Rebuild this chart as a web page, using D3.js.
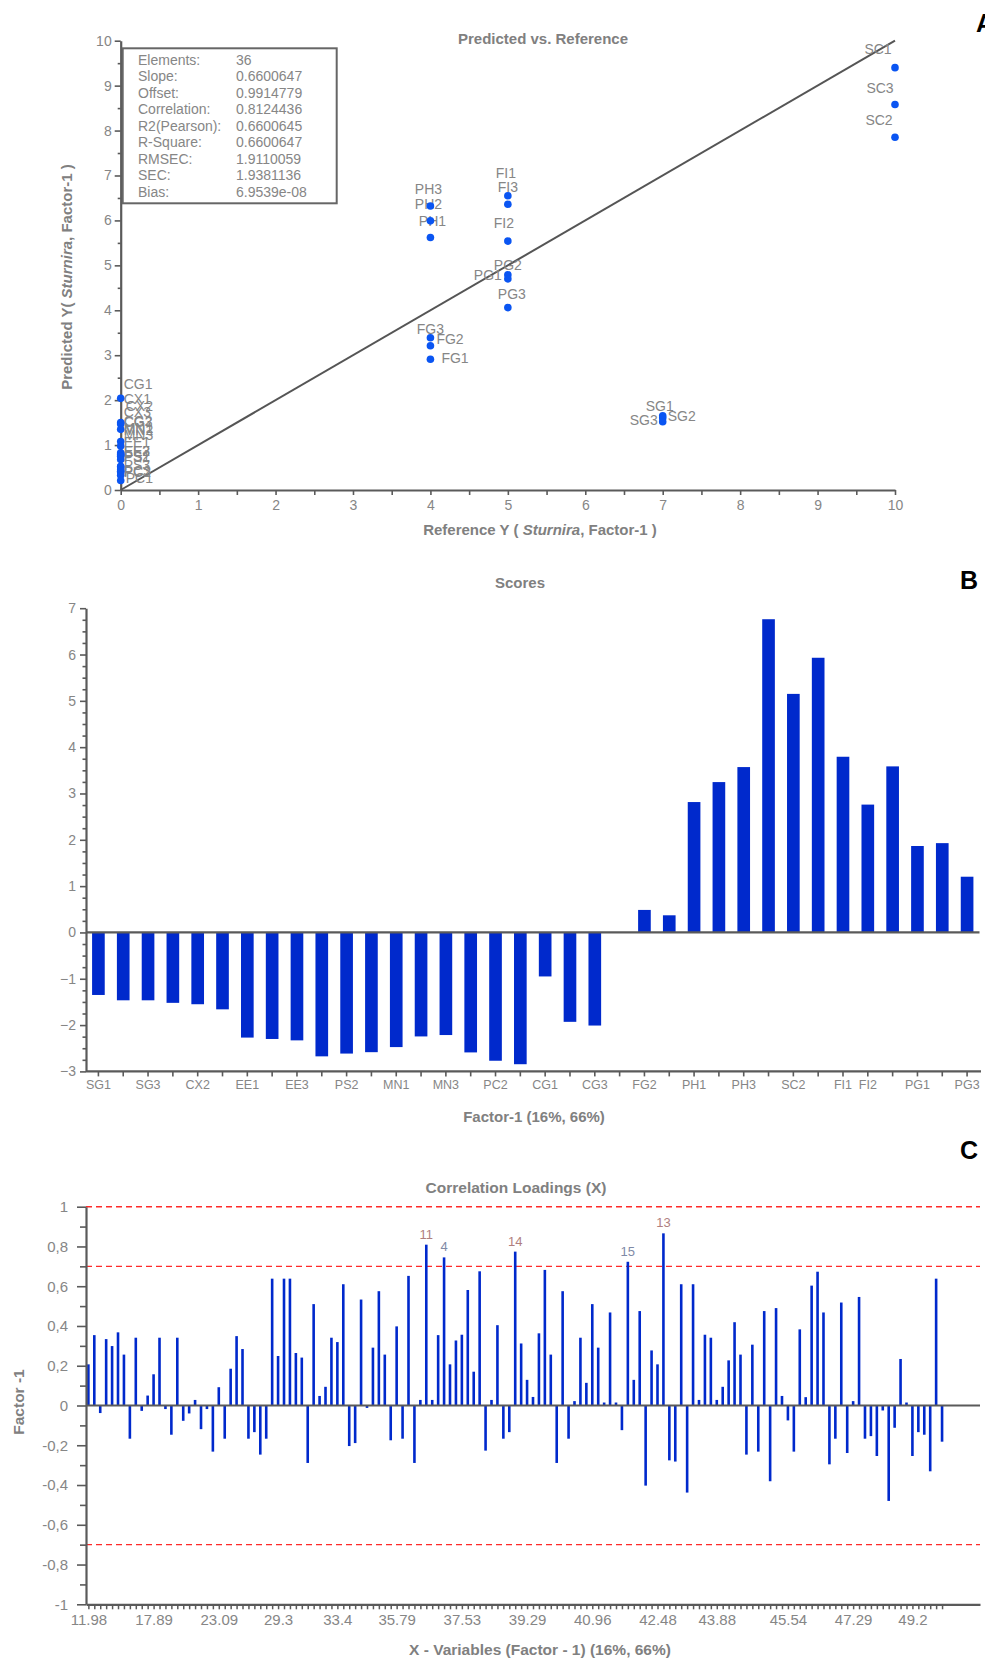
<!DOCTYPE html>
<html><head><meta charset="utf-8">
<script src="https://cdn.jsdelivr.net/npm/d3@7"></script>
<style>
body{margin:0;background:#fff;}
svg{display:block;font-family:"Liberation Sans",Arial,sans-serif;}
</style></head><body>
<svg id="c" width="985" height="1659"></svg>
<script>
// ---------------- Panel A data ----------------
const aNames = ["SC1","SC3","SC2","FI1","FI3","FI2","PG2","PG1","PG3","PH3","PH2","PH1","FG2","FG3","FG1","SG1","SG2","SG3",
  "CG1","CX1","CX2","CX3","CG2","CG3","MN1","MN2","MN3","EE1","EE2","EE3","PS1","PS2","PS3","PC1","PC2","PC3"];
const aReference = [10,10,10,5,5,5,5,5,5,4,4,4,4,4,4,7,7,7, 0,0,0,0,0,0,0,0,0,0,0,0,0,0,0,0,0,0];
const aPredicted = [9.40,8.58,7.85,6.55,6.36,5.54,4.79,4.70,4.06,6.32,5.99,5.62,3.39,3.21,2.91,1.65,1.60,1.52,
  2.04,1.50,1.47,1.35,1.08,0.98,0.52,0.80,0.83,0.78,0.75,0.68,0.40,0.42,0.52,0.45,0.33,0.21];
const statNames = ["Elements:","Slope:","Offset:","Correlation:","R2(Pearson):","R-Square:","RMSEC:","SEC:","Bias:"];
const statValues = ["36","0.6600647","0.9914779","0.8124436","0.6600645","0.6600647","1.9110059","1.9381136","6.9539e-08"];
const aTicks = [0,1,2,3,4,5,6,7,8,9,10];

// ---------------- Panel B data ----------------
const bNames = ["SG1","SG2","SG3","CX1","CX2","CX3","EE1","EE2","EE3","PS1","PS2","PS3","MN1","MN2","MN3","PC1","PC2","PC3",
  "CG1","CG2","CG3","FG1","FG2","FG3","PH1","PH2","PH3","SC1","SC2","SC3","FI1","FI2","FI3","PG1","PG2","PG3"];
const bScores = [-1.35,-1.465,-1.465,-1.52,-1.55,-1.66,-2.27,-2.30,-2.33,-2.675,-2.615,-2.585,-2.475,-2.245,-2.215,-2.59,-2.77,-2.845,
  -0.95,-1.93,-2.01,0.0,0.486,0.37,2.815,3.246,3.57,6.762,5.15,5.93,3.793,2.76,3.585,1.866,1.928,1.203];
const bShownLabels = ["SG1","SG3","CX2","EE1","EE3","PS2","MN1","MN3","PC2","CG1","CG3","FG2","PH1","PH3","SC2","FI1","FI2","PG1","PG3"];
const bTicks = [-3,-2,-1,0,1,2,3,4,5,6,7];

// ---------------- Panel C data ----------------
const cLoadings = [0.207,0.354,-0.038,0.334,0.299,0.368,0.256,-0.167,0.341,-0.027,0.050,0.157,0.341,-0.018,-0.147,0.341,-0.077,-0.040,0.028,-0.119,
  -0.018,-0.232,0.092,-0.167,0.185,0.349,0.284,-0.167,-0.134,-0.247,-0.167,0.638,0.249,0.638,0.638,0.264,0.241,-0.289,0.510,0.048,
  0.094,0.341,0.319,0.610,-0.204,-0.189,0.533,-0.012,0.291,0.575,0.256,-0.175,0.398,-0.167,0.652,-0.289,0.028,0.809,0.028,0.354,
  0.745,0.207,0.327,0.356,0.581,0.170,0.675,-0.227,0.028,0.404,-0.167,-0.134,0.774,0.312,0.129,0.043,0.363,0.682,0.256,-0.289,
  0.575,-0.167,0.022,0.341,0.114,0.510,0.291,0.015,0.468,0.015,-0.124,0.723,0.129,0.475,-0.403,0.277,0.207,0.866,-0.276,-0.282,
  0.610,-0.438,0.610,0.028,0.356,0.341,0.028,0.094,0.227,0.419,0.256,-0.247,0.306,-0.232,0.475,-0.381,0.490,0.048,-0.075,-0.232,
  0.383,0.042,0.603,0.673,0.468,-0.296,-0.167,0.518,-0.239,0.022,0.546,-0.167,-0.154,-0.254,-0.025,-0.480,-0.112,0.234,0.015,-0.254,
  -0.134,-0.147,-0.331,0.638,-0.182];
const cTickIndex = [0,11,22,32,42,52,63,74,85,96,106,118,129,139];
const cTickLabels = ["11.98","17.89","23.09","29.3","33.4","35.79","37.53","39.29","40.96","42.48","43.88","45.54","47.29","49.2"];
const cMarkedIndex = [57,60,72,91,97];
const cMarkedLabels = ["11","4","14","15","13"];
const cLimits = [1,0.7,-0.7];
const cTicks = [-1,-0.8,-0.6,-0.4,-0.2,0,0.2,0.4,0.6,0.8,1];

// ---------------- layout / style (not data) ----------------
const AXIS = "#5a5a5a", TXT = "#868686", TITLE = "#808080", DOT = "#0a55f2", BAR = "#0029cc";
// label offsets for panel A point labels [dx, dy, anchor]
const aLabelPos = {
  SC1:[-17,-19,"middle"],SC3:[-15,-17,"middle"],SC2:[-16,-17,"middle"],
  FI1:[-2,-23,"middle"],FI3:[0,-17,"middle"],FI2:[-4,-18,"middle"],
  PG2:[0,-10,"middle"],PG1:[-20,-4,"middle"],PG3:[4,-14,"middle"],
  PH3:[-2,-17,"middle"],PH2:[-2,-17,"middle"],PH1:[2,-16,"middle"],
  FG2:[6,1,"start"],FG3:[0,-17,"middle"],FG1:[11,-1,"start"],
  SG1:[-3,-10,"middle"],SG2:[5,-2,"start"],SG3:[-5,-2,"end"],
  CG1:[3,-14,"start"],CX1:[3,-24,"start"],CX2:[5,-18,"start"],CX3:[3,-17,"start"],CG2:[3,-20,"start"],CG3:[3,-24,"start"],
  MN1:[3,-39,"start"],MN2:[3,-24,"start"],MN3:[3,-18,"start"],EE1:[3,-13,"start"],EE2:[3,-5,"start"],EE3:[3,-8,"start"],
  PS1:[3,-15,"start"],PS2:[3,-15,"start"],PS3:[3,-2,"start"],PC1:[5,8,"start"],PC2:[3,-3,"start"],PC3:[3,-10,"start"]
};

const svg = d3.select("#c");
function styleAxis(g){
  g.select(".domain").attr("stroke",AXIS).attr("stroke-width",2.2);
  g.selectAll(".tick line").attr("stroke",AXIS).attr("stroke-width",1.6);
  g.selectAll(".tick text").attr("fill",TXT).attr("font-family","'Liberation Sans',Arial,sans-serif");
}
function panelLetter(t,x,y){
  svg.append("text").attr("x",x).attr("y",y).attr("font-size",25).attr("font-weight","bold").attr("fill","#000").text(t);
}

// ================= Panel A =================
(function(){
  const x = d3.scaleLinear().domain([0,10]).range([120.7,895]);
  const y = d3.scaleLinear().domain([0,10]).range([490,40.7]);
  const g = svg.append("g");
  const ya = g.append("g").attr("transform",`translate(${x(0)},0)`)
    .call(d3.axisLeft(y).tickValues(aTicks).tickSize(6).tickSizeOuter(0).tickPadding(3));
  styleAxis(ya); ya.selectAll(".tick text").attr("font-size",14);
  const ym = g.append("g").attr("transform",`translate(${x(0)},0)`)
    .call(d3.axisLeft(y).tickValues(d3.range(0.5,10,1)).tickSize(3).tickFormat(""));
  styleAxis(ym); ym.select(".domain").remove();
  const xa = g.append("g").attr("transform",`translate(0,${y(0)})`)
    .call(d3.axisBottom(x).tickValues(aTicks).tickSize(5).tickSizeOuter(0).tickPadding(5));
  styleAxis(xa); xa.selectAll(".tick text").attr("font-size",14);
  const xm = g.append("g").attr("transform",`translate(0,${y(0)})`)
    .call(d3.axisBottom(x).tickValues(d3.range(0.5,10,1)).tickSize(5).tickFormat(""));
  styleAxis(xm); xm.select(".domain").remove();
  g.append("line").attr("x1",x(0)).attr("y1",y(0)).attr("x2",x(10)).attr("y2",y(10))
    .attr("stroke","#555").attr("stroke-width",2);
  const lab = g.append("g").attr("font-size",14).attr("fill",TXT);
  aNames.forEach((n,i)=>{
    const p = aLabelPos[n];
    lab.append("text").attr("x",x(aReference[i])+p[0]).attr("y",y(aPredicted[i])+p[1])
      .attr("text-anchor",p[2]).attr("dominant-baseline","central").text(n);
  });
  g.append("g").selectAll("circle").data(aNames).join("circle")
    .attr("cx",(d,i)=>x(aReference[i])).attr("cy",(d,i)=>y(aPredicted[i])).attr("r",3.8).attr("fill",DOT);
  g.append("rect").attr("x",122.7).attr("y",48.3).attr("width",214).attr("height",155)
    .attr("fill","none").attr("stroke","#666").attr("stroke-width",2);
  const st = g.append("g").attr("font-size",14).attr("fill",TXT);
  statNames.forEach((s,i)=>{
    st.append("text").attr("x",138).attr("y",65+i*16.46).text(s);
    st.append("text").attr("x",236).attr("y",65+i*16.46).text(statValues[i]);
  });
  svg.append("text").attr("x",543).attr("y",44).attr("text-anchor","middle").attr("font-size",15)
    .attr("font-weight","bold").attr("fill",TITLE).text("Predicted vs. Reference");
  const xt = svg.append("text").attr("x",540).attr("y",535).attr("text-anchor","middle").attr("font-size",15)
    .attr("font-weight","bold").attr("fill",TITLE);
  xt.append("tspan").text("Reference Y ( ");
  xt.append("tspan").attr("font-style","italic").text("Sturnira");
  xt.append("tspan").text(", Factor-1 )");
  const yt = svg.append("text").attr("transform","translate(72,277) rotate(-90)").attr("text-anchor","middle")
    .attr("font-size",15).attr("font-weight","bold").attr("fill",TITLE);
  yt.append("tspan").text("Predicted Y( ");
  yt.append("tspan").attr("font-style","italic").text("Sturnira");
  yt.append("tspan").text(", Factor-1 )");
  panelLetter("A",976,32);
})();

// ================= Panel B =================
(function(){
  const x = d3.scaleBand().domain(bNames).range([86,979.5]).padding(0);
  const y = d3.scaleLinear().domain([-3,7]).range([1071.4,608.2]);
  const g = svg.append("g");
  const bw = x.bandwidth()*0.51;
  g.append("g").selectAll("rect").data(bNames).join("rect")
    .attr("x",d=>x(d)+(x.bandwidth()-bw)/2).attr("width",bw)
    .attr("y",(d,i)=>y(Math.max(0,bScores[i]))).attr("height",(d,i)=>Math.abs(y(bScores[i])-y(0)))
    .attr("fill",BAR);
  g.append("line").attr("x1",86).attr("x2",979.5).attr("y1",y(0)).attr("y2",y(0)).attr("stroke",AXIS).attr("stroke-width",2.2);
  const ya = g.append("g").attr("transform","translate(86,0)")
    .call(d3.axisLeft(y).tickValues(bTicks).tickSize(6).tickSizeOuter(0).tickPadding(4));
  styleAxis(ya); ya.selectAll(".tick text").attr("font-size",14);
  const ym = g.append("g").attr("transform","translate(86,0)")
    .call(d3.axisLeft(y).tickValues(d3.range(-3,7,0.25).filter(v=>v%1!==0)).tickSize(3.5).tickFormat(""));
  styleAxis(ym); ym.select(".domain").remove();
  const xa = g.append("g").attr("transform",`translate(0,${y(-3)})`)
    .call(d3.axisBottom(x).tickSize(5).tickSizeOuter(0).tickPadding(4).tickFormat(d=>bShownLabels.includes(d)?d:""));
  styleAxis(xa); xa.selectAll(".tick text").attr("font-size",12.5);
  xa.select(".domain").attr("d","M86,0H981");
  svg.append("text").attr("x",520).attr("y",588).attr("text-anchor","middle").attr("font-size",15)
    .attr("font-weight","bold").attr("fill",TITLE).text("Scores");
  svg.append("text").attr("x",534).attr("y",1122).attr("text-anchor","middle").attr("font-size",15)
    .attr("font-weight","bold").attr("fill",TITLE).text("Factor-1 (16%, 66%)");
  panelLetter("B",960,589);
})();

// ================= Panel C =================
(function(){
  const x = d3.scaleLinear().domain([-0.4,150.4]).range([86,980]);
  const y = d3.scaleLinear().domain([-1,1]).range([1604.3,1206.7]);
  const g = svg.append("g");
  const loc = d3.formatLocale({decimal:",",thousands:".",grouping:[3],currency:["",""],minus:"-"});
  const fmt = loc.format(".1~f");
  g.append("g").selectAll("line").data(cLimits).join("line")
    .attr("x1",86).attr("x2",980).attr("y1",d=>y(d)).attr("y2",d=>y(d))
    .attr("stroke","#ff2a2a").attr("stroke-width",1.4).attr("stroke-dasharray","6,4");
  g.append("g").selectAll("rect").data(cLoadings).join("rect")
    .attr("x",(d,i)=>x(i)-1.3).attr("width",2.6)
    .attr("y",d=>y(Math.max(0,d))).attr("height",d=>Math.abs(y(d)-y(0)))
    .attr("fill",BAR);
  g.append("line").attr("x1",86).attr("x2",980).attr("y1",y(0)).attr("y2",y(0)).attr("stroke",AXIS).attr("stroke-width",2.2);
  g.append("g").selectAll("text").data(cMarkedIndex).join("text")
    .attr("x",d=>x(d)).attr("y",d=>y(cLoadings[d])-6).attr("text-anchor","middle").attr("font-size",13)
    .attr("fill",(d,i)=>(cMarkedLabels[i]==="4"||cMarkedLabels[i]==="15")?"#7f8aa6":"#b07f7f")
    .text((d,i)=>cMarkedLabels[i]);
  const ya = g.append("g").attr("transform","translate(86,0)")
    .call(d3.axisLeft(y).tickValues(cTicks).tickSize(9).tickSizeOuter(0).tickPadding(9).tickFormat(fmt));
  styleAxis(ya); ya.selectAll(".tick text").attr("font-size",15);
  const ym = g.append("g").attr("transform","translate(86,0)")
    .call(d3.axisLeft(y).tickValues(d3.range(-9,10,2).map(v=>v/10)).tickSize(6).tickFormat(""));
  styleAxis(ym); ym.select(".domain").remove();
  const xa = g.append("g").attr("transform",`translate(0,${y(-1)})`)
    .call(d3.axisBottom(x).tickValues(d3.range(cLoadings.length)).tickSize(5).tickSizeOuter(0)
      .tickPadding(5).tickFormat(i=>{const k=cTickIndex.indexOf(i);return k>=0?cTickLabels[k]:"";}));
  styleAxis(xa); xa.selectAll(".tick text").attr("font-size",15);
  xa.selectAll(".tick line").attr("stroke-width",1.5);
  svg.append("text").attr("x",516).attr("y",1193).attr("text-anchor","middle").attr("font-size",15.5)
    .attr("font-weight","bold").attr("fill",TITLE).text("Correlation Loadings (X)");
  svg.append("text").attr("x",540).attr("y",1655).attr("text-anchor","middle").attr("font-size",15.5)
    .attr("font-weight","bold").attr("fill",TITLE).text("X - Variables (Factor - 1) (16%, 66%)");
  svg.append("text").attr("transform","translate(24,1402) rotate(-90)").attr("text-anchor","middle")
    .attr("font-size",15.5).attr("font-weight","bold").attr("fill",TITLE).text("Factor -1");
  panelLetter("C",960,1159);
})();
</script>
</body></html>
